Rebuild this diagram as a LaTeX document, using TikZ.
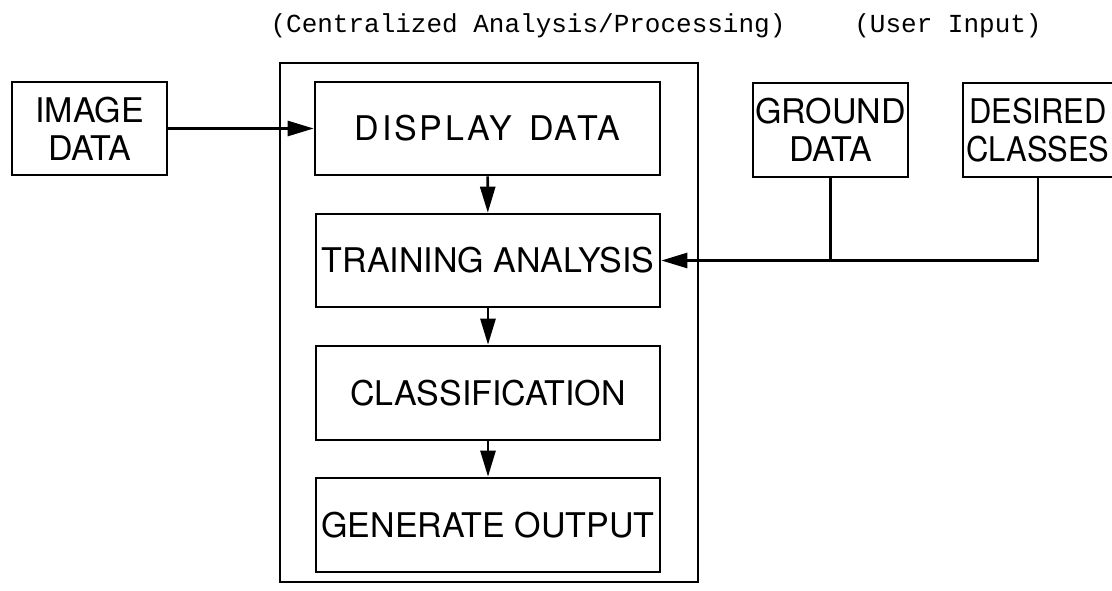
\documentclass[tikz,border=0pt]{standalone}
\usepackage{fontspec}
\setsansfont{TeX Gyre Heros}
\setmonofont{Liberation Mono}
\usetikzlibrary{arrows.meta}
\begin{document}
\begin{tikzpicture}[x=1pt,y=-1pt,
  box/.style={draw, line width=2.6pt, inner sep=0pt, align=center,
    font=\fontsize{34}{38}\selectfont\sffamily},
  conn/.style={line width=2.6pt},
  arr/.style={conn, -{Triangle[length=26pt,width=15pt]}},
  hdr/.style={anchor=base, inner sep=0pt, font=\fontsize{26}{30}\selectfont\ttfamily}]
\useasboundingbox (0,0) rectangle (1112,591);
\fill[white] (0,0) rectangle (1112,591);
% headers
\node[hdr] (h1) at (528,33) {(Centralized Analysis/Processing)};
\node[hdr] (h2) at (948,33) {(User Input)};
% central frame
\node[box, minimum width=418pt, minimum height=519pt] (outer) at (489,322.5) {};
\node[box, minimum width=345pt, minimum height=93pt] (disp) at (487.5,128.5)
  {\addfontfeature{LetterSpace=8}DISPLAY\hspace{0.5em}DATA};
\node[box, minimum width=344pt, minimum height=93pt] (train) at (488,260.5) {TRAINING ANALYSIS};
\node[box, minimum width=344pt, minimum height=94pt] (cls) at (488,393) {CLASSIFICATION};
\node[box, minimum width=344pt, minimum height=94pt] (gen) at (488,525) {GENERATE OUTPUT};
% side boxes
\node[box, minimum width=155pt, minimum height=93pt] (img) at (89.5,128.5) {IMAGE\\DATA};
\node[box, minimum width=155pt, minimum height=94pt] (ground) at (830.5,130) {GROUND\\DATA};
\node[box, minimum width=150pt, minimum height=94pt] (desired) at (1038,130)
  {\scalebox{0.91}[1]{DESIRED}\\\scalebox{0.91}[1]{CLASSES}};
% connectors
\draw[arr] (img) -- (disp);
\draw[arr] (disp) -- (train);
\draw[arr] (train) -- (cls);
\draw[arr] (cls) -- (gen);
\draw[arr] (desired.south) |- (train.east);
\coordinate (join) at (ground.south |- train.east);
\draw[conn] (ground.south) -- (join);
\end{tikzpicture}
\end{document}
